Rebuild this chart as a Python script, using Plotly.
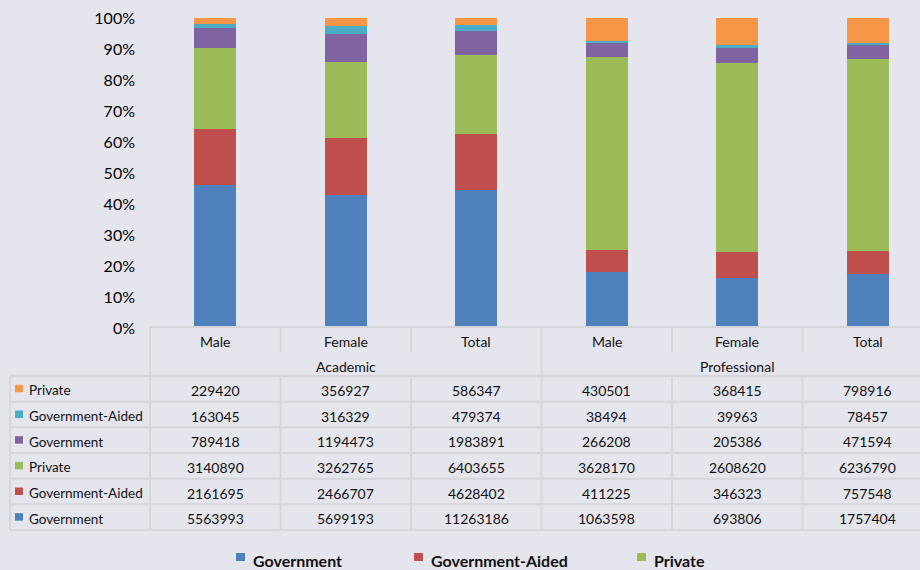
import plotly.graph_objects as go

# categories along the x axis
categories = ["Male", "Female", "Total", "Male", "Female", "Total"]
groups = ["Academic", "Professional"]

# series, bottom of the stack first
series_names = ["Government", "Government-Aided", "Private",
                "Government", "Government-Aided", "Private"]
series_colors = ["#4F81BD", "#C0504D", "#9BBB59", "#8064A2", "#4BACC6", "#F79646"]

gov_1 = [5563993, 5699193, 11263186, 1063598, 693806, 1757404]
aided_1 = [2161695, 2466707, 4628402, 411225, 346323, 757548]
private_1 = [3140890, 3262765, 6403655, 3628170, 2608620, 6236790]
gov_2 = [789418, 1194473, 1983891, 266208, 205386, 471594]
aided_2 = [163045, 316329, 479374, 38494, 39963, 78457]
private_2 = [229420, 356927, 586347, 430501, 368415, 798916]

series_values = [gov_1, aided_1, private_1, gov_2, aided_2, private_2]

W, H = 920, 570
PLOT_L, PLOT_T, PLOT_B = 150, 18, 328   # pixel edges of the plot area
COL_W = 130.5                           # pixel width of one category
BG = "#E5E5EE"
LINE = "#D5D5DA"
FONT = "Lato, 'Open Sans', sans-serif"
TXT = "#111111"

x_idx = list(range(len(categories)))
x_min = -0.5
x_max = x_min + (W - PLOT_L) / COL_W    # last column runs past the edge


def px_x(px):
    return (px - PLOT_L) / (W - PLOT_L)


def px_y(py):
    return (PLOT_B - py) / (PLOT_B - PLOT_T)


def col_edge(k):
    # pixel x of the left edge of category k
    return PLOT_L + k * COL_W


fig = go.Figure()

for name, color, vals in zip(series_names, series_colors, series_values):
    fig.add_trace(go.Bar(
        x=x_idx,
        y=vals,
        name=name,
        marker_color=color,
        marker_line_width=0,
        width=0.32,
        showlegend=False,
    ))

shapes = []
annotations = []


def hline(py, x0, x1):
    shapes.append(dict(type="line", xref="paper", yref="paper",
                       x0=px_x(x0), x1=px_x(x1), y0=px_y(py), y1=px_y(py),
                       line=dict(color=LINE, width=2)))


def vline(px, y0, y1):
    shapes.append(dict(type="line", xref="paper", yref="paper",
                       x0=px_x(px), x1=px_x(px), y0=px_y(y0), y1=px_y(y1),
                       line=dict(color=LINE, width=2)))


def label(x, y, text, xref="x", xanchor="center", size=14):
    annotations.append(dict(x=x, xref=xref, y=y, yref="paper",
                            xanchor=xanchor, yanchor="middle",
                            text=text, showarrow=False,
                            font=dict(size=size, color=TXT)))


# table grid
head_top, head_mid, data_top = 327, 352, 376
row_h = 25.67
n_rows = len(series_values)
table_bot = data_top + n_rows * row_h

hline(head_top, PLOT_L, W + 20)
for r in range(n_rows + 1):
    hline(data_top + r * row_h, 10, W + 20)
vline(10, data_top, table_bot)
vline(PLOT_L, head_top, table_bot)
for k in range(1, len(categories) + 1):
    px = col_edge(k)
    if k % 3 == 0:
        vline(px, head_top, table_bot)
    else:
        vline(px, head_top, head_mid)
        vline(px, data_top, table_bot)

# header texts
for i, cat in enumerate(categories):
    label(i, px_y(341), cat)
for g, name in enumerate(groups):
    label(g * 3 + 1, px_y(366), name)

# data rows, top row is the top of the stack
for r in range(n_rows):
    s = n_rows - 1 - r
    cy = data_top + r * row_h + row_h / 2 + 1.5
    shapes.append(dict(type="rect", xref="paper", yref="paper",
                       x0=px_x(15), x1=px_x(23),
                       y0=px_y(cy - 5.5), y1=px_y(cy + 2),
                       fillcolor=series_colors[s], line_width=0))
    label(px_x(27), px_y(cy), series_names[s], xref="paper", xanchor="left", size=13.5)
    for i, v in enumerate(series_values[s]):
        label(i, px_y(cy), str(v))

# legend under the table
legend_pos = [236, 414, 637]
for k in range(3):
    ly = 560
    shapes.append(dict(type="rect", xref="paper", yref="paper",
                       x0=px_x(legend_pos[k]), x1=px_x(legend_pos[k] + 9),
                       y0=px_y(ly - 7), y1=px_y(ly + 1),
                       fillcolor=series_colors[k], line_width=0))
    label(px_x(legend_pos[k] + 15), px_y(ly), "<b>%s</b>" % series_names[k],
          xref="paper", xanchor="left", size=16)

fig.update_layout(
    width=W,
    height=H,
    margin=dict(l=PLOT_L, r=0, t=PLOT_T, b=H - PLOT_B, pad=0),
    barmode="stack",
    barnorm="fraction",
    paper_bgcolor=BG,
    plot_bgcolor=BG,
    font=dict(family=FONT, color=TXT),
    showlegend=False,
    shapes=shapes,
    annotations=annotations,
    xaxis=dict(
        range=[x_min, x_max],
        showticklabels=False,
        showgrid=False,
        zeroline=False,
        showline=False,
        ticks="",
        fixedrange=True,
    ),
    yaxis=dict(
        range=[0, 1],
        tickvals=[i / 10 for i in range(11)],
        tickformat=".0%",
        showgrid=False,
        zeroline=False,
        showline=False,
        ticks="",
        ticklabelstandoff=14,
        tickfont=dict(size=16, color="#000000"),
        fixedrange=True,
    ),
)

# the page body has a default 8px margin; drop it so the chart fills the window
fig.write_html("out.html", config={"displayModeBar": False},
               post_script="document.body.style.margin='0';")
